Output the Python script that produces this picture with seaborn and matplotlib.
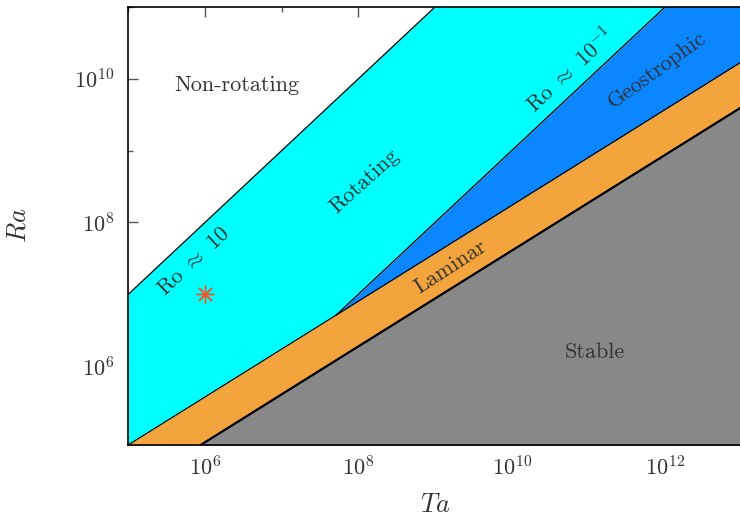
import matplotlib
matplotlib.use("Agg")
import matplotlib.pyplot as plt
import matplotlib.ticker as mticker
import numpy as np
import pandas as pd
import seaborn as sns

# Taylor-number knots (the middle one is where the Ro ~ 0.1 line meets the laminar bound)
ta_knots = [1e5, 5.1e7, 1e13]

# Regime boundaries, Ra at each knot
ra_ro10 = [1e7, 5.1e9, 1e15]          # Ro ~ 10
ra_ro01 = [1e4, 5.1e6, 1e12]          # Ro ~ 0.1
ra_laminar = [8.0e4, 5.1e6, 1.73e10]  # upper edge of laminar band
ra_stable = [1.87e4, 1.2e6, 4.04e9]   # onset of convection

# Simulation point
point_ta = [1e6]
point_ra = [1e7]

# Region labels: text, Ta, Ra, rotation
labels = [
    ("Non-rotating", 2.61e6, 8.07e9, 0),
    (r"Ro $\approx$ 10", 7.2e5, 2.83e7, 43),
    ("Rotating", 1.22e8, 3.8e8, 42),
    (r"Ro $\approx$ 10$^{-1}$", 5.9e10, 1.31e10, 43),
    ("Geostrophic", 7.94e11, 1.33e10, 36),
    ("Laminar", 1.61e9, 2.41e7, 33),
    ("Stable", 1.22e11, 1.57e6, 0),
]

x_major = [1e6, 1e8, 1e10, 1e12]
x_minor = [1e5, 1e7, 1e9, 1e11, 1e13]
y_major = [1e6, 1e8, 1e10]
y_minor = [1e5, 1e7, 1e9, 1e11]

sns.set_theme(style="ticks")
plt.rcParams["font.family"] = ["cmr10", "DejaVu Serif"]
plt.rcParams["mathtext.fontset"] = "cm"
plt.rcParams["axes.unicode_minus"] = False
plt.rcParams["axes.formatter.use_mathtext"] = True

fig = plt.figure(figsize=(7.4, 5.18), dpi=100)
ax = fig.add_axes([128.3 / 740, 73.5 / 518, 613.4 / 740, 437.5 / 518])
ax.set_xscale("log")
ax.set_yscale("log")
ax.set_xlim(1e5, 1e13)
ax.set_ylim(8.1e4, 1e11)
ax.set_axisbelow(True)

ta = np.array(ta_knots)
lo = ax.get_ylim()[0] / 10
lower_rot = np.maximum(np.array(ra_laminar), np.array(ra_ro01))

# Filled regimes
ax.fill_between(ta, lower_rot, ra_ro10, color="#00ffff", linewidth=0, zorder=1)
ax.fill_between(ta[1:], ra_laminar[1:], ra_ro01[1:], color="#0a86ff", linewidth=0, zorder=1)
ax.fill_between(ta, ra_stable, ra_laminar, color="#f4a43c", linewidth=0, zorder=1)
ax.fill_between(ta, lo, ra_stable, color="#888888", linewidth=0, zorder=1)

# Boundary lines
lines = pd.DataFrame({
    "Ta": ta_knots * 3 + ta_knots[1:],
    "Ra": ra_ro10 + ra_laminar + ra_stable + ra_ro01[1:],
    "edge": ["ro10"] * 3 + ["laminar"] * 3 + ["stable"] * 3 + ["ro01"] * 2,
})
sns.lineplot(data=lines, x="Ta", y="Ra", units="edge", estimator=None,
             color="black", linewidth=0.9, sort=True, ax=ax, zorder=2)
sns.lineplot(x=ta_knots, y=ra_stable, color="black", linewidth=1.6,
             estimator=None, ax=ax, zorder=2)

# Simulation marker
sns.scatterplot(x=point_ta, y=point_ra, marker=(8, 2, 0), s=160,
                color="#e8592c", edgecolor="#e8592c", linewidth=1.0,
                ax=ax, zorder=3, legend=False)

for text, x, y, rot in labels:
    ax.text(x, y, text, rotation=rot, rotation_mode="anchor",
            ha="center", va="center", fontsize=16, color="#333333", zorder=4)

# Axes styling
ax.xaxis.set_major_locator(mticker.FixedLocator(x_major))
ax.xaxis.set_minor_locator(mticker.FixedLocator(x_minor))
ax.yaxis.set_major_locator(mticker.FixedLocator(y_major))
ax.yaxis.set_minor_locator(mticker.FixedLocator(y_minor))
ax.xaxis.set_major_formatter(mticker.LogFormatterSciNotation())
ax.yaxis.set_major_formatter(mticker.LogFormatterSciNotation())
ax.xaxis.set_minor_formatter(mticker.NullFormatter())
ax.yaxis.set_minor_formatter(mticker.NullFormatter())
ax.tick_params(which="both", direction="in", top=True, right=True,
               color="#555555", width=1.0, labelsize=16, labelcolor="#333333")
ax.tick_params(which="major", length=7)
ax.tick_params(which="minor", length=3.5)
ax.tick_params(axis="x", pad=8)
ax.tick_params(axis="y", pad=10)
for sp in ax.spines.values():
    sp.set_visible(True)
    sp.set_color("black")
    sp.set_linewidth(1.2)
    sp.set_zorder(5)

ax.set_xlabel(r"$Ta$", fontsize=19, color="#333333")
ax.set_ylabel(r"$Ra$", fontsize=19, color="#333333")
ax.xaxis.set_label_coords(0.5, -0.138)
ax.xaxis.label.set_va("center")
ax.yaxis.set_label_coords(-0.178, 0.5)
ax.yaxis.label.set_va("center")

fig.savefig("out.png", dpi=100)
